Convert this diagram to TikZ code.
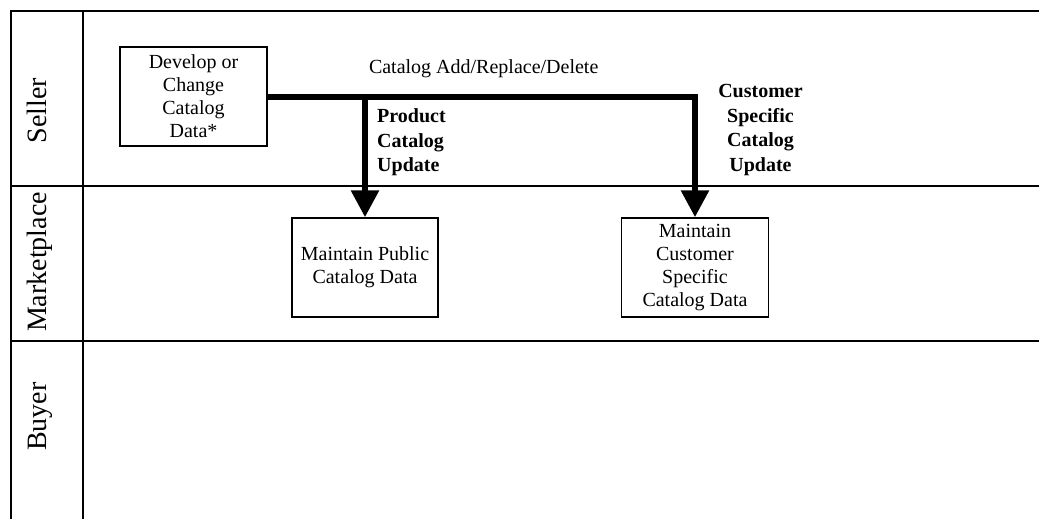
\documentclass[tikz,border=0pt]{standalone}
\usepackage{fontspec}
\setmainfont{Liberation Serif}
\usetikzlibrary{arrows.meta}

\tikzset{
  lane/.style={line width=2pt},
  procbox/.style={draw, line width=1.5pt, minimum width=147pt, minimum height=99pt,
    inner sep=2pt, align=center, font=\fontsize{20}{23}\selectfont},
  lanelabel/.style={rotate=90, anchor=base, inner sep=0pt,
    font=\fontsize{28}{30}\selectfont},
  flowlabel/.style={inner sep=0pt, font=\bfseries\fontsize{20}{24.5}\selectfont},
  flow/.style={line width=6pt, line join=miter,
    -{Triangle[length=27pt,width=27pt]}},
}

\begin{document}
\begin{tikzpicture}[x=1pt, y=-1pt]
  \useasboundingbox (0,0) rectangle (1039,519);

  % swimlane frame
  \draw[lane] (11,519) -- (11,11) -- (1039,11);
  \draw[lane] (83,11) -- (83,519);
  \draw[lane] (11,186) -- (1039,186);
  \draw[lane] (11,341) -- (1039,341);

  % lane titles
  \node[lanelabel] (seller) at (46,110.5) {Seller};
  \node[lanelabel] (market) at (46,262) {Marketplace};
  \node[lanelabel] (buyer) at (46,416.5) {Buyer};

  % processes
  \node[procbox] (dev) at (193.5,96.5) {Develop or\\Change\\Catalog\\Data*};
  \node[procbox, minimum width=146pt] (pub) at (365,267.5) {Maintain Public\\Catalog Data};
  \node[procbox] (cust) at (695,267.5) {Maintain\\Customer\\Specific\\Catalog Data};

  % flows
  \coordinate (split) at (pub.north |- dev.east);
  \draw[flow] (dev.east) -| (cust.north);
  \draw[flow] (split) -- (pub.north);

  % flow labels
  \node[inner sep=0pt, font=\fontsize{20}{23}\selectfont] (crud) at (483.7,69) {Catalog Add/Replace/Delete};
  \node[flowlabel, align=left, anchor=west] (produpd) at (377,142.5) {Product\\Catalog\\Update};
  \node[flowlabel, align=center] (custupd) at (760.5,130) {Customer\\Specific\\Catalog\\Update};
\end{tikzpicture}
\end{document}
